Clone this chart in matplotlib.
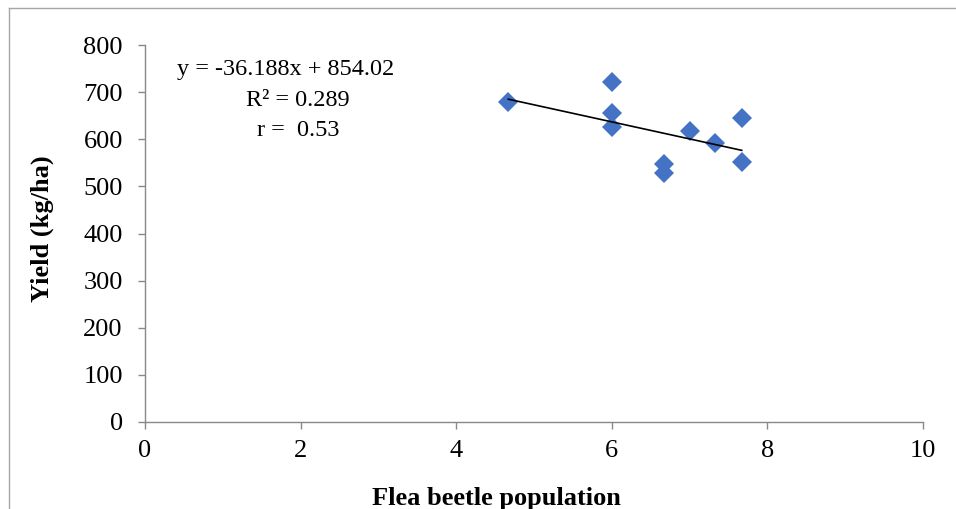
import matplotlib.pyplot as plt
from matplotlib.lines import Line2D

# data
beetles = [4.67, 6.0, 6.0, 6.0, 6.67, 6.67, 7.0, 7.33, 7.67, 7.67]
yields = [680, 722, 655, 625, 547, 529, 618, 593, 645, 551]
slope = -36.188
intercept = 854.02
fitLines = ["y = -36.188x + 854.02", "R² = 0.289", "r =  0.53"]
xTicks = [0, 2, 4, 6, 8, 10]
yTicks = [0, 100, 200, 300, 400, 500, 600, 700, 800]

plt.rcParams['font.family'] = ['Liberation Serif', 'DejaVu Serif']

W, H = 956, 509
fig = plt.figure(figsize=(W/100, H/100), dpi=100)
ax = fig.add_axes([145/W, 1 - 422/H, 778/W, 377/H])

ax.plot(beetles, yields, 'D', color='#4472C4', markersize=10.5, markeredgewidth=0)

#trend line across the range of the data
x0 = min(beetles)
x1 = max(beetles)
ax.plot([x0, x1], [slope*x0 + intercept, slope*x1 + intercept], color='black', linewidth=1.2)

#equation box, one text per line (pixel centres from the top left)
centres = [(286, 70), (298, 100), (298, 131)]
for line, (cx, cy) in zip(fitLines, centres):
    fig.text(cx/W, 1 - cy/H, line, fontsize=17.5, ha='center', va='center')

ax.set_xlim(0, 10)
ax.set_ylim(0, 800)
ax.set_xticks(xTicks)
ax.set_yticks(yTicks)
ax.tick_params(labelsize=19, direction='out', length=5, color='#898989', width=1)
ax.tick_params(axis='x', pad=8)
ax.tick_params(axis='y', pad=11)
for side in ['top', 'right']:
    ax.spines[side].set_visible(False)
for side in ['left', 'bottom']:
    ax.spines[side].set_color('#898989')
    ax.spines[side].set_linewidth(1)

fig.text(496/W, 4/H, "Flea beetle population", fontsize=19, fontweight='bold',
         ha='center', va='baseline')
fig.text(42/W, 1 - 229/H, "Yield (kg/ha)", fontsize=19, fontweight='bold',
         ha='center', va='center', rotation=90)

#outer frame of the chart area (top and left edges only are visible)
fig.add_artist(Line2D([9/W, 1], [1 - 8/H, 1 - 8/H], color='#A6A6A6', linewidth=1))
fig.add_artist(Line2D([9/W, 9/W], [0, 1 - 8/H], color='#A6A6A6', linewidth=1))

fig.savefig("out.png", dpi=100)
